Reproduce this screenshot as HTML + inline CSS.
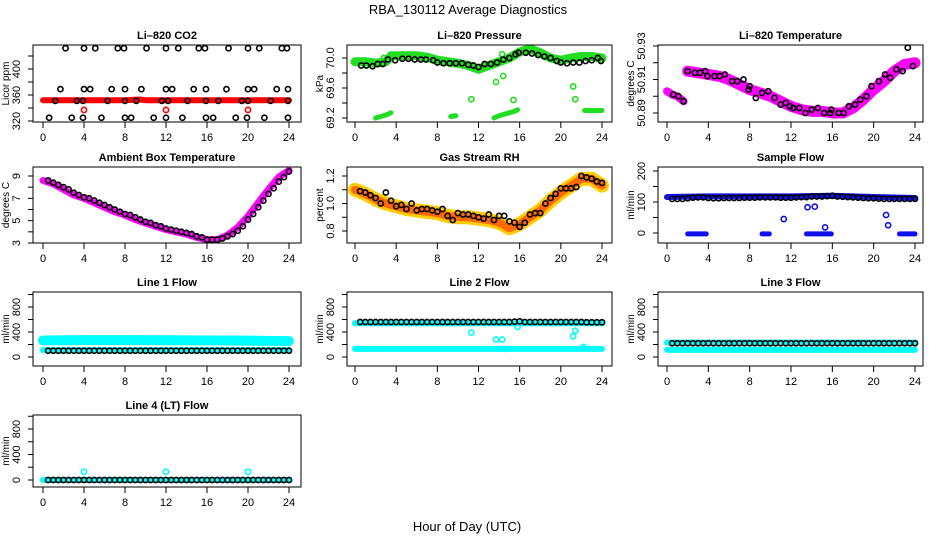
<!DOCTYPE html>
<html><head><meta charset="utf-8">
<style>
html,body{margin:0;padding:0;background:#fff;}
svg{display:block;font-family:"Liberation Sans",sans-serif;}
</style></head>
<body>
<svg id="chart" width="936" height="540" viewBox="0 0 936 540" xmlns="http://www.w3.org/2000/svg">
<rect width="936" height="540" fill="#fff"/>
<text x="468" y="14" text-anchor="middle" font-size="13">RBA_130112  Average Diagnostics</text>
<text x="467" y="531" text-anchor="middle" font-size="13">Hour of Day (UTC)</text>
</svg>
<script>
// ---- shared categories ----
const hoursHalf = [0.5,1,1.5,2,2.5,3,3.5,4,4.5,5,5.5,6,6.5,7,7.5,8,8.5,9,9.5,10,10.5,11,11.5,12,12.5,13,13.5,14,14.5,15,15.5,16,16.5,17,17.5,18,18.5,19,19.5,20,20.5,21,21.5,22,22.5,23,23.5,24];
const hoursBand = [0,1,2,3,4,5,6,7,8,9,10,11,12,13,14,15,16,17,18,19,20,21,22,23,24];
const xTicks = [0,4,8,12,16,20,24];

// ---- CO2 ----
const co2HighHours = [2.2,4,5.1,7.3,7.9,10.1,12,13.2,15.2,15.8,18.1,20,21.1,23.3,23.8];
const co2HighVals = [432,432,432,432,432,432,432,432,432,432,432,432,432,432,432];
const co2MidHours = [1.7,4,4.6,6.7,8,9.6,12,12.6,14.7,15.9,17.9,20,20.6,22.8,23.9];
const co2MidVals = [369,369,369,369,369,369,369,369,369,369,369,369,369,369,369];
const co2LowHours = [1.2,3.3,3.9,6.3,8,9.1,11.6,12.2,14.1,15.9,17.1,19.4,20,22.2,23.9];
const co2LowVals = [351,351,351,351,351,351,351,351,351,351,351,351,351,351,351];
const co2BotHours = [0.6,2.8,3.9,5.7,8,8.6,10.8,12,13.6,15.9,16.6,18.8,19.9,21.6,23.9];
const co2BotVals = [325,325,325,325,325,325,325,325,325,325,325,325,325,325,325];
const co2RedBandHours = [0,4,8,9.5,10,12,16,20,24];
const co2RedBandVals = [352,352,352,353,352,352,352,352,352];
const co2RedPtHours = [4,12,20];
const co2RedPtVals = [337,337,337];

// ---- Pressure ----
const presBandHours = [0,1,2,3,3.5,4,6,7,8,10,11,12,13,14,15,16,17,18,19,20,21,22,23,24];
const presBandVals = [69.95,69.95,69.93,69.95,70.03,70.03,70.03,70.01,69.97,69.93,69.9,69.85,69.9,69.95,70.0,70.08,70.12,70.07,70.0,69.97,70.0,70.02,70.02,70.0];
const presLow1Hours = [2,2.5,3,3.5]; const presLow1Vals = [69.2,69.22,69.24,69.27];
const presLow2Hours = [9.3,9.8]; const presLow2Vals = [69.22,69.23];
const presLow3Hours = [13.5,14,14.5,15,15.5,15.8]; const presLow3Vals = [69.2,69.23,69.25,69.27,69.29,69.31];
const presLow4Hours = [22.3,24]; const presLow4Vals = [69.3,69.3];
const presPtHours = [11.3,13.7,14.4,14.3,15.4,21.2,21.4,2.8];
const presPtVals = [69.45,69.68,69.76,70.05,69.44,69.62,69.45,70.0];
const presBlackHours = [0.6,1.1,1.7,2.2,2.7,3.2,3.9,4.6,5.2,5.8,6.4,6.9,7.6,8,8.6,9.2,9.8,10.4,11,11.5,12,12.6,13.2,13.8,14.4,15,15.6,15.9,16.6,17.2,17.8,18.4,19,19.6,20,20.6,21.2,21.8,22.4,23,23.6,23.9];
const presBlackVals = [69.9,69.9,69.89,69.92,69.92,69.98,69.97,69.99,69.99,69.98,69.98,69.98,69.97,69.94,69.93,69.93,69.93,69.93,69.91,69.9,69.88,69.92,69.92,69.94,69.98,70.0,70.05,70.07,70.07,70.06,70.04,70.02,70.0,69.96,69.94,69.93,69.94,69.94,69.96,69.97,70.0,69.96];

// ---- Li-820 temperature ----
const ltBand1Hours = [0,0.5,1,1.6]; const ltBand1Vals = [50.903,50.901,50.9,50.897];
const ltBand2Hours = [2,3,4,5,6,7,8,9,10,11,12,13,14,15,16,17,18,19,20,21,22,23,24];
const ltBand2Vals = [50.915,50.914,50.913,50.912,50.91,50.907,50.904,50.902,50.9,50.897,50.894,50.892,50.891,50.891,50.89,50.89,50.893,50.898,50.904,50.909,50.915,50.919,50.92];
const ltBlackHours = [0.6,1.1,1.6,2,2.7,3.2,3.7,3.9,4.6,5.1,5.6,6.3,6.8,7.4,7.9,8,8.6,9.2,9.8,10.4,11,11.5,11.9,12.2,12.8,13.4,14,14.6,15.2,15.8,15.9,16.6,17.1,17.6,18.2,18.7,19.3,19.8,20.5,21.1,21.6,22.2,22.8,23.3,23.8];
const ltBlackVals = [50.901,50.9,50.897,50.915,50.914,50.914,50.915,50.912,50.912,50.912,50.913,50.909,50.909,50.91,50.904,50.906,50.899,50.902,50.903,50.899,50.895,50.896,50.894,50.893,50.893,50.89,50.892,50.893,50.89,50.89,50.892,50.89,50.89,50.894,50.895,50.898,50.9,50.906,50.909,50.913,50.911,50.916,50.915,50.929,50.918];

// ---- Ambient temperature ----
const ambBandVals = [8.6,8.3,7.8,7.3,7.0,6.6,6.2,5.8,5.5,5.1,4.8,4.5,4.2,4.0,3.8,3.5,3.3,3.3,3.7,4.4,5.4,6.6,7.8,8.9,9.5];
const ambBlackVals = [8.6,8.4,8.2,8.0,7.8,7.5,7.3,7.1,7.0,6.8,6.6,6.4,6.2,6.0,5.8,5.6,5.5,5.3,5.1,4.9,4.8,4.6,4.5,4.3,4.2,4.1,4.0,3.9,3.8,3.6,3.5,3.3,3.3,3.3,3.4,3.6,3.8,4.1,4.5,5.1,5.6,6.2,6.8,7.4,7.9,8.5,8.9,9.4];

// ---- Gas stream RH ----
const rhBandVals = [1.1,1.07,1.03,1.0,0.98,0.96,0.95,0.94,0.93,0.91,0.9,0.9,0.89,0.88,0.86,0.82,0.85,0.9,0.95,1.02,1.08,1.13,1.18,1.18,1.13];
const rhBlackVals = [1.09,1.08,1.06,1.04,1.0,1.08,1.02,0.98,0.99,0.96,1.0,0.95,0.96,0.96,0.95,0.94,0.96,0.91,0.88,0.93,0.92,0.92,0.91,0.9,0.89,0.92,0.88,0.91,0.91,0.87,0.86,0.83,0.86,0.92,0.93,0.93,1.0,1.04,1.07,1.11,1.11,1.11,1.12,1.2,1.19,1.18,1.16,1.15];

// ---- Sample flow ----
const sfBandHours = [0,4,8,12,16,20,24]; const sfBandVals = [116,118,118,118,120,116,113];
const sfBlackVals = [110,110,110,112,114,115,115,113,112,112,113,113,113,113,114,114,114,115,115,115,115,114,114,114,115,116,116,118,118,118,119,120,118,117,116,115,114,113,112,112,111,110,110,110,110,110,110,110];
const sfLowSegHours = [[2,3.8],[9.2,9.9],[13.5,15.9],[22.5,24]];
const sfLowVal = -3;
const sfPtHours = [11.3,13.6,14.3,15.3,21.2,21.4]; const sfPtVals = [45,83,85,18,58,25];

// ---- Line flows ----
const l1CyanBandHours = [0,4,8,12,16,20,24]; const l1CyanBandVals = [265,270,270,268,265,262,255];
const l1CyanLowHours = [0,24]; const l1CyanLowVals = [110,110];
const l1BlackVals = [100,100,100,100,100,100,100,100,100,100,100,100,100,100,100,100,100,100,100,100,100,100,100,100,100,100,100,100,100,100,100,100,100,100,100,100,100,100,100,100,100,100,100,100,100,100,100,100];
const l2CyanHighHours = [0,24]; const l2CyanHighVals = [540,540];
const l2CyanLowHours = [0,24]; const l2CyanLowVals = [130,130];
const l2PtHours = [11.3,13.7,14.3,14.5,15.8,21.2,21.4,22.2]; const l2PtVals = [390,280,280,130,480,330,420,160];
const l2BlackVals = [560,560,560,560,560,560,560,560,560,560,560,560,560,560,560,560,560,560,560,560,560,560,560,560,560,560,560,560,560,560,565,570,560,560,560,560,560,560,560,560,560,560,560,560,555,555,555,555];
const l3CyanHighHours = [0,24]; const l3CyanHighVals = [230,230];
const l3CyanLowHours = [0,24]; const l3CyanLowVals = [115,115];
const l3BlackVals = [220,220,220,220,220,220,220,220,220,220,220,220,220,220,220,220,220,220,220,220,220,220,220,220,220,220,220,220,220,220,220,220,220,220,220,220,220,220,220,220,220,220,220,220,220,220,220,220];
const l4CyanHours = [0,24]; const l4CyanVals = [0,0];
const l4PtHours = [4,12,20]; const l4PtVals = [130,130,130];
const l4BlackVals = [0,0,0,0,0,0,0,0,0,0,0,0,0,0,0,0,0,0,0,0,0,0,0,0,0,0,0,0,0,0,0,0,0,0,0,0,0,0,0,0,0,0,0,0,0,0,0,0];

// ---- axis tick arrays ----
const co2Ticks = [320,340,360,380,400,420]; const co2Labels = ["320","","360","","400",""];
const presTicks = [69.2,69.4,69.6,69.8,70.0]; const presLabels = ["69.2","","69.6","","70.0"];
const ltTicks = [50.89,50.9,50.91,50.92,50.93]; const ltLabels = ["50.89","","50.91","","50.93"];
const ambTicks = [3,4,5,6,7,8,9]; const ambLabels = ["3","","5","","7","","9"];
const rhTicks = [0.8,0.9,1.0,1.1,1.2]; const rhLabels = ["0.8","","1.0","","1.2"];
const sfTicks = [0,50,100,150,200]; const sfLabels = ["0","","100","","200"];
const flTicks = [0,200,400,600,800,1000]; const flLabels = ["0","","400","","800",""];

const NS = "http://www.w3.org/2000/svg";
const svg = document.getElementById('chart');
function mk(tag, attrs, parent){ const e=document.createElementNS(NS,tag); for(const k in attrs) e.setAttribute(k,attrs[k]); (parent||svg).appendChild(e); return e; }

const cols = [[33,301,43,289],[347,612,355,602],[658,923,667,915]];
const rows = [[45,122],[167,243],[292,366],[415,487]];

function panel(name, col, row, title, ylab, vA, pA, vB, pB, ticks, labels){
  const [x0,x1,h0,h24] = cols[col]; const [y0,y1] = rows[row];
  const g = mk('g',{});
  
  
  const sx = h => h0 + h/24*(h24-h0);
  const sy = v => pA + (v-vA)*(pB-pA)/(vB-vA);
  const t = mk('text',{x:(x0+x1)/2, y:y0-6, 'text-anchor':'middle','font-size':11,'font-weight':'bold'},g);
  t.textContent = title;
  
  
  const plot = mk('g',{},g);
  
  
  // x axis
  const xa = mk('g',{},g);
  
  
  mk('line',{x1:sx(0),x2:sx(24),y1:y1,y2:y1,stroke:'#000','stroke-width':1},xa);
  xTicks.forEach(h=>{
    mk('line',{x1:sx(h),x2:sx(h),y1:y1,y2:y1+6,stroke:'#000','stroke-width':1},xa);
    const l = mk('text',{x:sx(h),y:y1+19,'text-anchor':'middle','font-size':11},xa);
    l.textContent = String(h);
    
    
  });
  // y axis
  const ya = mk('g',{},g);
  
  
  mk('line',{x1:x0,x2:x0,y1:sy(ticks[0]),y2:sy(ticks[ticks.length-1]),stroke:'#000','stroke-width':1},ya);
  ticks.forEach((v,i)=>{
    const p = sy(v);
    mk('line',{x1:x0-5,x2:x0,y1:p,y2:p,stroke:'#000','stroke-width':1},ya);
    if(labels[i]){
      const l = mk('text',{x:x0-13,y:p,'text-anchor':'middle','font-size':11,transform:`rotate(-90 ${x0-13} ${p})`},ya);
      l.textContent = labels[i];
      
      
    }
  });
  const yl = mk('text',{x:x0-24,y:(y0+y1)/2,'text-anchor':'middle','font-size':10,transform:`rotate(-90 ${x0-24} ${(y0+y1)/2})`},g);
  yl.textContent = ylab;
  
  
  const box = mk('rect',{x:x0,y:y0,width:x1-x0,height:y1-y0,fill:'none',stroke:'#000','stroke-width':1},g);
  
  
  return {
    band(hs, vs, color, w, nm){
      const pl = mk('polyline',{points:hs.map((h,i)=>sx(h)+','+sy(vs[i])).join(' '),fill:'none',stroke:color,'stroke-width':w,'stroke-linecap':'round','stroke-linejoin':'round'},plot);
      
      
    },
    pts(hs, vs, color, nm){
      const pg = mk('g',{},plot);
      
      
      hs.forEach((h,i)=>{
        const c = mk('circle',{cx:sx(h),cy:sy(vs[i]),r:2.6,fill:'none',stroke:color,'stroke-width':1.6},pg);
        
        
      });
    }
  };
}

// CO2
let p = panel('co2-panel',0,0,'Li\u2013820 CO2','Licor ppm',320,121,400,69,co2Ticks,co2Labels);
p.band(co2RedBandHours, co2RedBandVals, '#ff0000', 6, 'co2-red-band');
p.pts(co2RedPtHours, co2RedPtVals, '#ff0000', 'co2-red');
p.pts(co2HighHours, co2HighVals, '#000', 'co2-high');
p.pts(co2MidHours, co2MidVals, '#000', 'co2-mid');
p.pts(co2LowHours, co2LowVals, '#000', 'co2-low');
p.pts(co2BotHours, co2BotVals, '#000', 'co2-bottom');

// Pressure
p = panel('pressure-panel',1,0,'Li\u2013820 Pressure','kPa',69.2,118,70.0,58,presTicks,presLabels);
p.band(presBandHours, presBandVals, '#22dd22', 9, 'pressure-green-band');
p.band(presLow1Hours, presLow1Vals, '#22dd22', 5, 'pressure-low-1');
p.band(presLow2Hours, presLow2Vals, '#22dd22', 5, 'pressure-low-2');
p.band(presLow3Hours, presLow3Vals, '#22dd22', 5, 'pressure-low-3');
p.band(presLow4Hours, presLow4Vals, '#22dd22', 5, 'pressure-low-4');
p.pts(presPtHours, presPtVals, '#22dd22', 'pressure-green');
p.pts(presBlackHours, presBlackVals, '#000', 'pressure-black');

// Li temperature
p = panel('li-temp-panel',2,0,'Li\u2013820 Temperature','degrees C',50.89,113,50.93,46,ltTicks,ltLabels);
p.band(ltBand1Hours, ltBand1Vals, '#ff00ff', 8, 'li-temp-band-1');
p.band(ltBand2Hours, ltBand2Vals, '#ff00ff', 11, 'li-temp-band-2');
p.pts(ltBlackHours, ltBlackVals, '#000', 'li-temp-black');

// Ambient
p = panel('ambient-panel',0,1,'Ambient Box Temperature','degrees C',3,243,9,176,ambTicks,ambLabels);
p.band(hoursBand, ambBandVals, '#ff00ff', 7, 'ambient-band');
p.pts(hoursHalf, ambBlackVals, '#000', 'ambient-black');

// RH
p = panel('rh-panel',1,1,'Gas Stream RH','percent',0.8,231,1.2,176,rhTicks,rhLabels);
p.band(hoursBand, rhBandVals, '#ffcc00', 14, 'rh-yellow-band');
p.band(hoursBand, rhBandVals, '#ff6a00', 8, 'rh-red-band');
p.pts(hoursHalf, rhBlackVals, '#000', 'rh-black');

// Sample flow
p = panel('sample-flow-panel',2,1,'Sample Flow','ml/min',0,233,200,171,sfTicks,sfLabels);
p.band(sfBandHours, sfBandVals, '#1010ee', 6, 'sample-flow-band');
sfLowSegHours.forEach((s,i)=>p.band(s, [sfLowVal,sfLowVal], '#1010ee', 5, 'sample-flow-low-'+i));
p.pts(sfPtHours, sfPtVals, '#1010ee', 'sample-flow-blue');
p.pts(hoursHalf, sfBlackVals, '#000', 'sample-flow-black');

// Line 1
p = panel('line1-panel',0,2,'Line 1 Flow','ml/min',0,357,800,307,flTicks,flLabels);
p.band(l1CyanBandHours, l1CyanBandVals, '#00ffff', 10, 'line1-cyan-band');
p.band(l1CyanLowHours, l1CyanLowVals, '#00ffff', 6, 'line1-cyan-low');
p.pts(hoursHalf, l1BlackVals, '#000', 'line1-black');

// Line 2
p = panel('line2-panel',1,2,'Line 2 Flow','ml/min',0,357,800,307,flTicks,flLabels);
p.band(l2CyanHighHours, l2CyanHighVals, '#00ffff', 6, 'line2-cyan-high');
p.band(l2CyanLowHours, l2CyanLowVals, '#00ffff', 6, 'line2-cyan-low');
p.pts(l2PtHours, l2PtVals, '#00ffff', 'line2-cyan');
p.pts(hoursHalf, l2BlackVals, '#000', 'line2-black');

// Line 3
p = panel('line3-panel',2,2,'Line 3 Flow','ml/min',0,357,800,307,flTicks,flLabels);
p.band(l3CyanHighHours, l3CyanHighVals, '#00ffff', 6, 'line3-cyan-high');
p.band(l3CyanLowHours, l3CyanLowVals, '#00ffff', 6, 'line3-cyan-low');
p.pts(hoursHalf, l3BlackVals, '#000', 'line3-black');

// Line 4
p = panel('line4-panel',0,3,'Line 4 (LT) Flow','ml/min',0,480,800,429,flTicks,flLabels);
p.band(l4CyanHours, l4CyanVals, '#00ffff', 6, 'line4-cyan');
p.pts(l4PtHours, l4PtVals, '#00ffff', 'line4-cyan-pts');
p.pts(hoursHalf, l4BlackVals, '#000', 'line4-black');
</script>
</body></html>
